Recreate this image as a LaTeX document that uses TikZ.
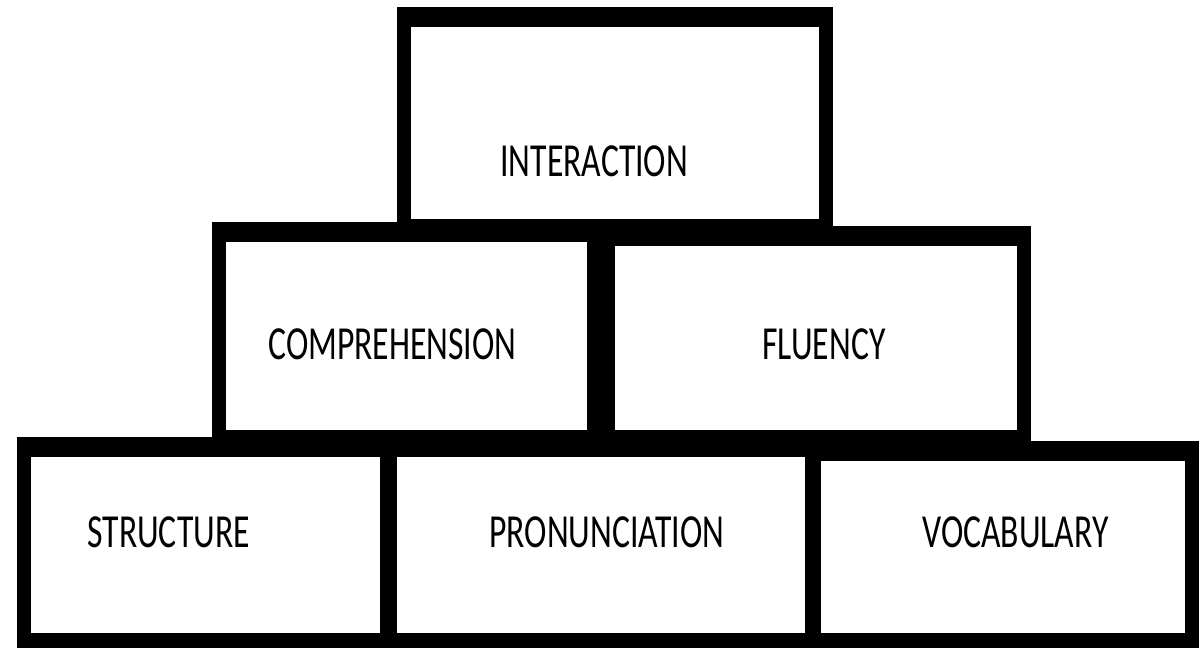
\documentclass[tikz,border=0pt]{standalone}
\usepackage{fontspec}
\newfontfamily\brickfont[FakeStretch=0.71]{Carlito}

\begin{document}
\begin{tikzpicture}[
    x=0.02cm, y=-0.02cm,
    brick/.style={fill=white, inner sep=0pt, outer sep=0pt},
    word/.style={anchor=base west, inner sep=0pt, font=\brickfont\fontsize{27}{27}\selectfont}
]
   \useasboundingbox (0,0) rectangle (1202,647);
   \clip (0,0) rectangle (1202,647);

   % heavy black frames, one per brick (inner corners grown by the border)
   \foreach \a/\b/\c/\d in {411/27/819/219, 226/242/587/430, 615/246/1017/430,
                            31/457/380/633, 397/457/805/633, 821/461/1185/633}
      \fill (\a-14,\b-20) rectangle (\c+14,\d+20);

   % top row
   \node[brick, minimum width=8.16cm, minimum height=3.84cm] (inter) at (615,123) {};
   % middle row
   \node[brick, minimum width=7.22cm, minimum height=3.76cm] (compr) at (406.5,336) {};
   \node[brick, minimum width=8.04cm, minimum height=3.68cm] (fluen) at (816,338) {};
   % bottom row
   \node[brick, minimum width=6.98cm, minimum height=3.52cm] (struc) at (205.5,545) {};
   \node[brick, minimum width=8.16cm, minimum height=3.52cm] (pronu) at (601,545) {};
   \node[brick, minimum width=7.28cm, minimum height=3.44cm] (vocab) at (1003,547) {};

   % labels
   \node[word] (inter-txt) at (500,176) {INTERACTION};
   \node[word] (compr-txt) at (268,359) {COMPREHENSION};
   \node[word] (fluen-txt) at (762,359) {FLUENCY};
   \node[word] (struc-txt) at (87,547) {STRUCTURE};
   \node[word] (pronu-txt) at (489,547) {PRONUNCIATION};
   \node[word] (vocab-txt) at (922,547) {VOCABULARY};
\end{tikzpicture}
\end{document}
